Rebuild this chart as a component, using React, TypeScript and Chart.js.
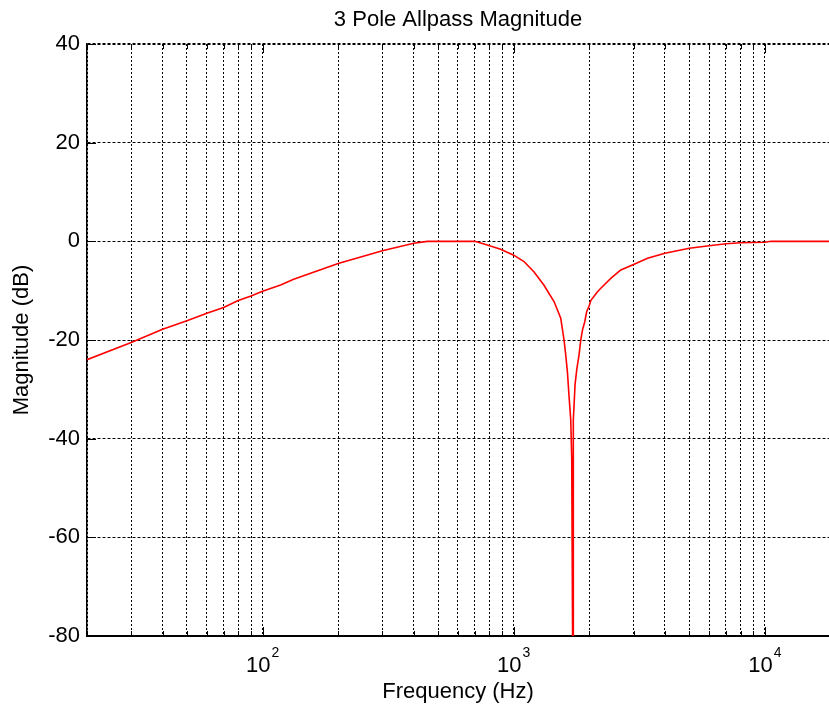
import React, { useEffect, useRef } from 'react';
import { Chart, registerables } from 'chart.js';

Chart.register(...registerables);

// ---- data ----
const freqHz = [
  20, 30, 40, 50, 60, 70, 80, 90, 100, 118, 133,
  200, 300, 400, 453, 500, 600, 700, 762, 887, 1000,
  1099, 1205, 1320, 1447, 1539, 1586, 1611, 1636, 1661, 1687, 1702,
  1723, 1727, 1755, 1782, 1820, 1849, 1878, 1918, 1953, 2000, 2027,
  2156, 2222, 2435, 2669, 3000, 3410, 4000, 5000, 6000, 7000, 8000,
  10000, 10570, 18000,
];
const magnitudeDb = [
  -24, -20.5, -17.8, -16.1, -14.6, -13.4, -12.0, -11.1, -10.1, -8.85, -7.7,
  -4.5, -1.9, -0.4, 0, 0, 0, 0, -0.55, -1.6, -2.8,
  -4.1, -6.2, -8.9, -12.2, -15.6, -20, -23, -26.5, -31.5, -36.2, -44,
  -100, -36.2, -29, -26, -23, -20, -18, -16.3, -14.2, -13, -12,
  -10.2, -9.5, -7.5, -5.8, -4.7, -3.45, -2.4, -1.4, -0.9, -0.5, -0.3,
  -0.2, 0, 0,
];
const xGridTicks = [
  20, 30, 40, 50, 60, 70, 80, 90,
  100, 200, 300, 400, 500, 600, 700, 800, 900,
  1000, 2000, 3000, 4000, 5000, 6000, 7000, 8000, 9000,
  10000,
];
const xLabelDecades = [100, 1000, 10000];
const xLabelExponents = ['2', '3', '4'];
const yTickValues = [40, 20, 0, -20, -40, -60, -80];

const FONT = "'Liberation Sans', Arial, Helvetica, sans-serif";
const FS = 22;

export default function App() {
  const ref = useRef<HTMLCanvasElement>(null);

  useEffect(() => {
    const canvas = ref.current;
    if (!canvas) return;
    const points = freqHz.map((f, i) => ({ x: f, y: magnitudeDb[i] }));

    const decor = {
      id: 'matlabDecor',
      afterDraw(chart: any) {
        const ctx = chart.ctx;
        const xs = chart.scales.x;
        const ys = chart.scales.y;
        const { top, bottom, left } = chart.chartArea;
        ctx.save();
        ctx.strokeStyle = '#000';
        ctx.lineWidth = 1;
        ctx.beginPath();
        xGridTicks.forEach((v) => {
          const px = Math.round(xs.getPixelForValue(v)) + 0.5;
          const len = xLabelDecades.includes(v) ? 9 : 5;
          ctx.moveTo(px, bottom);
          ctx.lineTo(px, bottom - len);
          ctx.moveTo(px, top);
          ctx.lineTo(px, top + len);
        });
        yTickValues.forEach((v) => {
          const py = Math.round(ys.getPixelForValue(v)) + 0.5;
          ctx.moveTo(left, py);
          ctx.lineTo(left + 9, py);
        });
        ctx.stroke();

        ctx.fillStyle = '#000';
        ctx.textAlign = 'left';
        ctx.textBaseline = 'alphabetic';
        xLabelDecades.forEach((v, i) => {
          const px = xs.getPixelForValue(v);
          const exp = xLabelExponents[i];
          ctx.font = `${FS}px ${FONT}`;
          const w1 = ctx.measureText('10').width;
          ctx.font = `14px ${FONT}`;
          const w2 = ctx.measureText(exp).width;
          const start = px - (w1 + 1 + w2) / 2;
          ctx.font = `${FS}px ${FONT}`;
          ctx.fillText('10', start, bottom + 36);
          ctx.font = `14px ${FONT}`;
          ctx.fillText(exp, start + w1 + 1, bottom + 21);
        });
        ctx.restore();
      },
    };

    const chart = new Chart(canvas, {
      type: 'line',
      data: {
        datasets: [
          {
            data: points,
            borderColor: '#ff0000',
            borderWidth: 1.6,
            pointRadius: 0,
            tension: 0,
            fill: false,
          },
        ],
      },
      options: {
        animation: false,
        responsive: false,
        devicePixelRatio: 1,
        layout: { padding: 0 },
        plugins: {
          legend: { display: false },
          tooltip: { enabled: false },
          title: {
            display: true,
            text: '3 Pole Allpass Magnitude',
            fullSize: false,
            color: '#000',
            font: { family: FONT, size: FS, weight: 'normal' },
            padding: { top: 7, bottom: 10.6 },
          },
        },
        scales: {
          x: {
            type: 'logarithmic',
            min: 20,
            max: 18000,
            afterBuildTicks: (s: any) => {
              s.ticks = xGridTicks.map((v) => ({ value: v }));
            },
            afterFit: (s: any) => {
              s.height = 77;
            },
            ticks: { display: false },
            grid: { color: '#000', lineWidth: 1, drawTicks: false },
            border: { display: true, color: '#000', width: 2, dash: [2, 2] },
            title: {
              display: true,
              text: 'Frequency (Hz)',
              color: '#000',
              font: { family: FONT, size: FS },
              padding: { top: 0, bottom: 8 },
            },
          },
          y: {
            type: 'linear',
            min: -80,
            max: 40,
            afterFit: (s: any) => {
              s.width = 87;
            },
            ticks: {
              stepSize: 20,
              color: '#000',
              font: { family: FONT, size: FS },
              padding: 7,
            },
            grid: {
              color: '#000',
              lineWidth: (c: any) => (c.tick && c.tick.value === 40 ? 2 : 1),
              drawTicks: false,
            },
            border: { display: true, color: '#000', width: 1.5, dash: [3, 2] },
            title: {
              display: true,
              text: 'Magnitude (dB)',
              color: '#000',
              font: { family: FONT, size: FS },
              padding: { top: 9, bottom: 0 },
            },
          },
        },
      } as any,
      plugins: [decor],
    });
    return () => chart.destroy();
  }, []);

  return (
    <div style={{ position: 'absolute', left: 0, top: 0, width: 829, height: 713, background: '#fff' }}>
      <canvas ref={ref} width={829} height={713} style={{ display: 'block' }} />
    </div>
  );
}
